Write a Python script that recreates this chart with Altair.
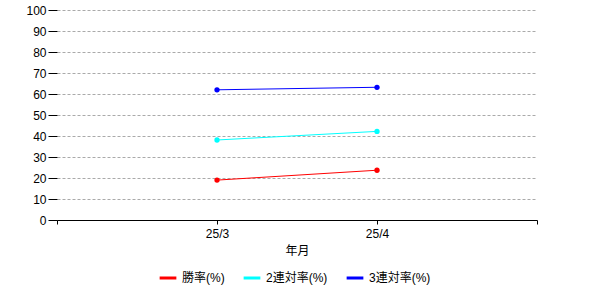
import altair as alt
import pandas as pd

months = ["25/3", "25/4"]
series = ["勝率(%)", "2連対率(%)", "3連対率(%)"]
win = [19.0, 23.7]
ren2 = [38.1, 42.2]
ren3 = [62.0, 63.2]
colors = ["#ff0000", "#00ffff", "#0000ff"]
x_domain = [" ", "25/3", "25/4", "  "]

rows = []
for name, vals in zip(series, [win, ren2, ren3]):
    for m, v in zip(months, vals):
        rows.append({"年月": m, "系列": name, "値": v})
df = pd.DataFrame(rows)

FONT = "Liberation Sans, Noto Sans CJK JP"

chart = alt.Chart(df).mark_line(
    strokeWidth=1, point=alt.OverlayMarkDef(size=28, filled=True, opacity=1)
).encode(
    x=alt.X("年月:N", scale=alt.Scale(type="point", domain=x_domain, padding=0),
            axis=alt.Axis(title="年月", labelAngle=0, grid=False, domainColor="black",
                          tickColor="black", tickSize=4, labelPadding=4, titlePadding=6,
                          labelFontSize=12, titleFontSize=12, titleFontWeight="normal",
                          labelColor="black", titleColor="black")),
    y=alt.Y("値:Q", scale=alt.Scale(domain=[0, 100], nice=False),
            axis=alt.Axis(title=None, values=list(range(0, 101, 10)), domain=False,
                          tickColor="black", tickSize=9, labelPadding=2, labelFontSize=12,
                          labelColor="black", gridColor="#aaaaaa", gridDash=[3, 2],
                          gridWidth=1)),
    color=alt.Color("系列:N", scale=alt.Scale(domain=series, range=colors),
                    legend=alt.Legend(title=None, orient="none", direction="horizontal",
                                      legendX=101, legendY=258, symbolType="stroke",
                                      symbolStrokeWidth=3, symbolSize=280,
                                      labelFontSize=12, labelColor="black",
                                      columnPadding=12, labelOffset=4)),
).properties(
    width=480, height=210,
    autosize=alt.AutoSizeParams(type="none"),
    padding={"left": 57, "top": 10, "right": 63, "bottom": 80},
).configure(font=FONT).configure_view(stroke=None).configure_axis(
    labelFont=FONT, titleFont=FONT
).configure_legend(labelFont=FONT)

chart.save("out.html", embed_options={"renderer": "svg", "actions": False})
